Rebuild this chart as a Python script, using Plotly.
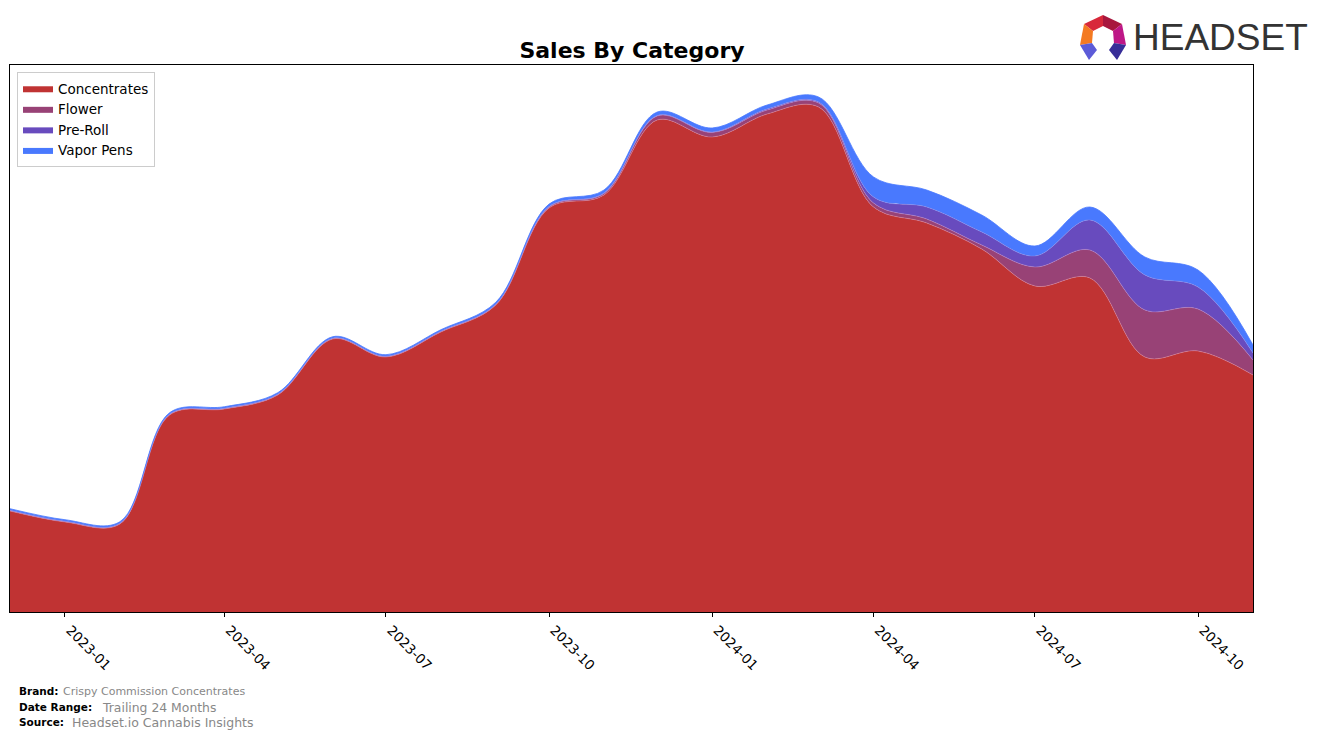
import plotly.graph_objects as go
import pandas as pd

# ---------------- data ----------------
months = pd.date_range("2022-12-01", periods=24, freq="MS")

concentrates = [101, 90, 88, 197, 203, 217, 273, 255, 280, 307, 404, 417,
                492, 475, 498, 505, 405, 389, 363, 326, 334, 255, 261, 237]
flower = [0.5, 0.5, 0.5, 0.5, 0.5, 0.5, 0.5, 0.5, 0.5, 0.5, 1, 1.5,
          4, 4.5, 4, 4, 4, 4, 4, 19, 28, 47, 42, 15]
pre_roll = [0.3, 0.3, 0.3, 0.3, 0.3, 0.3, 0.3, 0.3, 0.3, 0.3, 0.4, 0.5,
            0.5, 0.5, 1, 1, 6, 12, 13, 11, 30, 35, 22, 7]
vapor_pens = [1.5, 1.5, 1.5, 1.5, 1.5, 1.5, 1.5, 1.5, 1.5, 2, 2.5, 3,
              3.5, 4, 4, 5, 20, 17, 17, 10, 13, 18, 17, 8]

series_names = ["Concentrates", "Flower", "Pre-Roll", "Vapor Pens"]
series_colors = ["#C03333", "#984276", "#684BBE", "#4979FE"]
edge_colors = ["rgba(230,140,160,0.55)", "rgba(200,140,200,0.55)",
               "rgba(150,140,230,0.55)", "#4979FE"]

tick_dates = ["2023-01-01", "2023-04-01", "2023-07-01", "2023-10-01",
              "2024-01-01", "2024-04-01", "2024-07-01", "2024-10-01"]

brand = "Crispy Commission Concentrates"
date_range = "Trailing 24 Months"
source = "Headset.io Cannabis Insights"

# ---------------- layout geometry ----------------
W, H = 1317, 739
L, R, T, B = 10, 1253, 65, 612


def px(x):
    return (x - L) / (R - L)


def py(y):
    return (B - y) / (B - T)


fig = go.Figure()
for name, vals, col, ecol in zip(series_names,
                                 [concentrates, flower, pre_roll, vapor_pens],
                                 series_colors, edge_colors):
    fig.add_trace(go.Scatter(
        x=months, y=vals, name=name, mode="lines", legendgroup=name,
        stackgroup="one", fillcolor=col, showlegend=False,
        line=dict(color=ecol, width=0.8, shape="spline", smoothing=1.0),
    ))
# legend swatches (plain filled rectangles)
for name, col in zip(series_names, series_colors):
    fig.add_trace(go.Scatter(
        x=[None], y=[None], name=name, legendgroup=name, mode="lines",
        fill="toself", fillcolor=col, line=dict(width=0, color=col),
        showlegend=True, hoverinfo="skip",
    ))

# ---------------- logo ----------------
def poly(points, color):
    d = "M " + " L ".join(f"{px(a):.5f},{py(b):.5f}" for a, b in points) + " Z"
    return dict(type="path", xref="paper", yref="paper", path=d,
                fillcolor=color, line=dict(width=0), layer="above")


shapes = [
    poly([(1084, 24), (1103, 15), (1103, 26), (1093, 31)], "#D8283A"),
    poly([(1103, 15), (1122, 24), (1113, 31), (1103, 26)], "#A8173E"),
    poly([(1084, 24), (1093, 31), (1092, 43), (1080, 45)], "#F47A22"),
    poly([(1122, 24), (1126, 45), (1114, 43), (1113, 31)], "#BE1787"),
    poly([(1080, 45), (1092, 43), (1097, 50), (1089, 60)], "#5C5BD8"),
    poly([(1126, 45), (1114, 43), (1109, 50), (1117, 60)], "#372D98"),
]

annotations = [
    dict(text="HEADSET", x=px(1131), y=py(38), xref="paper", yref="paper",
         xanchor="left", yanchor="middle", showarrow=False,
         font=dict(family="Liberation Sans, Arial, sans-serif",
                   size=37, color="#333333")),
]

# footer
foot = [
    ("Brand:", 17, 691, 10.5, brand, 61, 11, "#888888"),
    ("Date Range:", 17, 707, 10.5, date_range, 100, 12.4, "#888888"),
    ("Source:", 17, 722, 10.5, source, 70, 12.5, "#888888"),
]
for lab, lx, ly, ls, val, vx, vs, vc in foot:
    annotations.append(dict(text=f"<b>{lab}</b>", x=px(lx), y=py(ly), xref="paper", yref="paper",
                            xanchor="left", yanchor="middle", showarrow=False,
                            font=dict(family="DejaVu Sans", size=ls, color="black")))
    annotations.append(dict(text=val, x=px(vx), y=py(ly), xref="paper", yref="paper",
                            xanchor="left", yanchor="middle", showarrow=False,
                            font=dict(family="DejaVu Sans", size=vs, color=vc)))

fig.update_layout(
    width=W, height=H,
    margin=dict(l=L, r=W - R, t=T, b=H - B),
    paper_bgcolor="white", plot_bgcolor="white",
    font=dict(family="DejaVu Sans", color="black"),
    title=dict(text="<b>Sales By Category</b>", xref="container", x=632 / W,
               xanchor="center", yref="container", y=1 - 50 / H, yanchor="middle",
               font=dict(family="DejaVu Sans", size=22, color="black")),
    showlegend=True,
    legend=dict(x=px(17), y=py(72), xanchor="left", yanchor="top",
                bgcolor="white", bordercolor="#CCCCCC", borderwidth=1,
                font=dict(family="DejaVu Sans", size=13.5), traceorder="normal",
                tracegroupgap=0),
    shapes=shapes,
    annotations=annotations,
    xaxis=dict(range=[months[0], months[-1]], tickvals=tick_dates,
               tickformat="%Y-%m", tickangle=45, ticks="outside", ticklen=4,
               tickcolor="black", showgrid=False, zeroline=False,
               showline=True, linecolor="black", linewidth=1, mirror=True,
               ticklabelshift=5,
               tickfont=dict(family="DejaVu Sans", size=13.5, color="black")),
    yaxis=dict(range=[0, B - T], showticklabels=False, ticks="",
               showgrid=False, zeroline=False,
               showline=True, linecolor="black", linewidth=1, mirror=True),
)

fig.write_html("out.html")
